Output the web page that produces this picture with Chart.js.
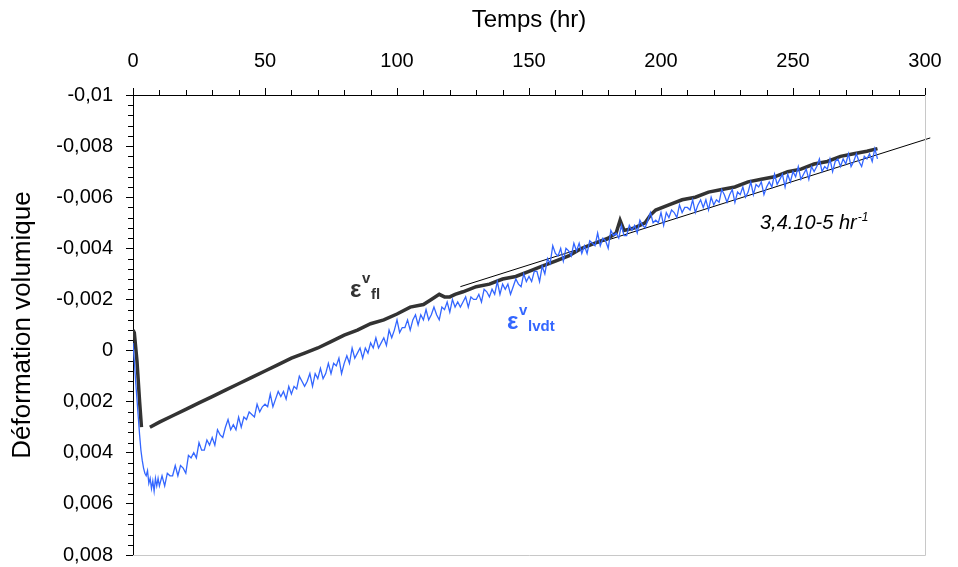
<!DOCTYPE html>
<html>
<head>
<meta charset="utf-8">
<script src="https://cdn.jsdelivr.net/npm/chart.js@4/dist/chart.umd.min.js"></script>
<style>
    html, body { margin: 0; padding: 0; background: #fff; }
</style>
</head>
<body>
<canvas id="chart" width="958" height="567"></canvas>
<script>
// fibre optic strain (black)
const flTime = [0, 0.5, 1.5, 2.5, 3.2, 4.5, 6.4, 10, 15, 20,
    25, 30, 35, 40, 45, 50, 55, 60, 65, 70,
    75, 80, 85, 90, 95, 100, 105, 110, 113, 116,
    118, 120, 122, 125, 130, 135, 140, 145, 150, 155,
    160, 165, 170, 175, 180, 183, 184.5, 186, 190, 194,
    196, 198, 203, 208, 213, 218, 223, 228, 233, 238,
    243, 248, 253, 258, 263, 268, 273, 278, 282];
const flStrain = [-0.0008, -0.0007, 0.0004, 0.0020, 0.0030, null, 0.0030, 0.0028, 0.00255, 0.0023,
    0.00205, 0.0018, 0.00155, 0.0013, 0.00105, 0.0008, 0.00055, 0.0003, 0.0001, -0.0001,
    -0.00035, -0.0006, -0.0008, -0.00105, -0.0012, -0.00143, -0.0017, -0.0018, -0.0020, -0.0022,
    -0.0021, -0.0021, -0.0022, -0.0023, -0.0025, -0.0026, -0.0028, -0.0029, -0.0031, -0.0033,
    -0.0035, -0.0037, -0.0040, -0.0042, -0.0044, -0.0046, -0.0051, -0.0047, -0.0048, -0.0050,
    -0.0053, -0.0055, -0.0057, -0.0059, -0.0060, -0.0062, -0.0063, -0.0064, -0.0066, -0.0067,
    -0.0068, -0.0070, -0.0071, -0.0073, -0.0074, -0.0076, -0.0077, -0.0078, -0.0079];

// LVDT strain (blue, noisy)
const lvdtTime = [0, 0.5, 1, 1.5, 2, 2.5, 3, 3.5, 4, 4.5,
    5, 5.5, 6, 6.5, 7, 7.5, 8, 8.5, 9, 9.5,
    10, 11, 12, 13, 14, 15, 16, 17, 18, 19,
    20, 21, 22, 23, 24, 25, 26, 27, 28, 29,
    30, 31, 32, 33, 34, 35, 36, 37, 38, 39,
    40, 41, 42, 43, 44, 45, 46, 47, 48, 49,
    50, 51, 52, 53, 54, 55, 56, 57, 58, 59,
    60, 61, 62, 63, 64, 65, 66, 67, 68, 69,
    70, 71, 72, 73, 74, 75, 76, 77, 78, 79,
    80, 81, 82, 83, 84, 85, 86, 87, 88, 89,
    90, 91, 92, 93, 94, 95, 96, 97, 98, 99,
    100, 101, 102, 103, 104, 105, 106, 107, 108, 109,
    110, 111, 112, 113, 114, 115, 116, 117, 118, 119,
    120, 121, 122, 123, 124, 125, 126, 127, 128, 129,
    130, 131, 132, 133, 134, 135, 136, 137, 138, 139,
    140, 141, 142, 143, 144, 145, 146, 147, 148, 149,
    150, 151, 152, 153, 154, 155, 156, 157, 158, 159,
    160, 161, 162, 163, 164, 165, 166, 167, 168, 169,
    170, 171, 172, 173, 174, 175, 176, 177, 178, 179,
    180, 181, 182, 183, 184, 185, 186, 187, 188, 189,
    190, 191, 192, 193, 194, 195, 196, 197, 198, 199,
    200, 201, 202, 203, 204, 205, 206, 207, 208, 209,
    210, 211, 212, 213, 214, 215, 216, 217, 218, 219,
    220, 221, 222, 223, 224, 225, 226, 227, 228, 229,
    230, 231, 232, 233, 234, 235, 236, 237, 238, 239,
    240, 241, 242, 243, 244, 245, 246, 247, 248, 249,
    250, 251, 252, 253, 254, 255, 256, 257, 258, 259,
    260, 261, 262, 263, 264, 265, 266, 267, 268, 269,
    270, 271, 272, 273, 274, 275, 276, 277, 278, 279,
    280, 281, 282];
const lvdtStrain = [-0.0003, 0.0004, 0.0012, 0.0019, 0.0026, 0.0033, 0.0039, 0.0043, 0.0046, 0.0048,
    0.0049, 0.0047, 0.0052, 0.0050, 0.0054, 0.0051, 0.0055, 0.0050, 0.0053, 0.0050,
    0.0053, 0.0049, 0.0053, 0.0048, 0.0049, 0.0049, 0.0045, 0.0049, 0.0045, 0.0046,
    0.0048, 0.0041, 0.0042, 0.0040, 0.0042, 0.0036, 0.0039, 0.0039, 0.0035, 0.0037,
    0.0034, 0.0037, 0.0031, 0.0033, 0.0034, 0.0030, 0.0027, 0.0031, 0.0029, 0.0031,
    0.0026, 0.0030, 0.0026, 0.0027, 0.0024, 0.0025, 0.0026, 0.0021, 0.0024, 0.0022,
    0.0021, 0.0022, 0.0017, 0.0022, 0.0019, 0.0016, 0.0018, 0.0016, 0.0019, 0.0014,
    0.0017, 0.0014, 0.0015, 0.0010, 0.0012, 0.0014, 0.0012, 0.0009, 0.0014, 0.0009,
    0.0011, 0.0007, 0.0011, 0.0009, 0.0005, 0.0009, 0.0005, 0.0006, 0.0003, 0.0009,
    0.0005, 0.0002, 0.0005, -0.0001, 0.0003, 0.0001, -0.0001, 0.0003, -0.0001, 0.0001,
    -0.0003, -0.0001, -0.0005, -0.0001, -0.0003, -0.0005, -0.0002, -0.0008, -0.0005, -0.0008,
    -0.0012, -0.0007, -0.0009, -0.0009, -0.0012, -0.0008, -0.0012, -0.0014, -0.0010, -0.0014,
    -0.0012, -0.0016, -0.0012, -0.0014, -0.0017, -0.0014, -0.0012, -0.0017, -0.0016, -0.0019,
    -0.0015, -0.0020, -0.0017, -0.0019, -0.0017, -0.0019, -0.0021, -0.0017, -0.0021, -0.0020,
    -0.0020, -0.0022, -0.0019, -0.0024, -0.0023, -0.0021, -0.0024, -0.0022, -0.0027, -0.0022,
    -0.0026, -0.0024, -0.0026, -0.0022, -0.0025, -0.0028, -0.0026, -0.0025, -0.0030, -0.0027,
    -0.0029, -0.0027, -0.0031, -0.0031, -0.0027, -0.0033, -0.0030, -0.0036, -0.0034, -0.0041,
    -0.0038, -0.0037, -0.0040, -0.0035, -0.0040, -0.0039, -0.0037, -0.0042, -0.0039, -0.0042,
    -0.0038, -0.0041, -0.0038, -0.0043, -0.0042, -0.0041, -0.0046, -0.0041, -0.0044, -0.0043,
    -0.0040, -0.0047, -0.0045, -0.0046, -0.0044, -0.0049, -0.0045, -0.0045, -0.0049, -0.0047,
    -0.0049, -0.0046, -0.0051, -0.0049, -0.0048, -0.0051, -0.0054, -0.0050, -0.0051, -0.0050,
    -0.0054, -0.0049, -0.0054, -0.0052, -0.0055, -0.0054, -0.0052, -0.0057, -0.0054, -0.0056,
    -0.0056, -0.0055, -0.0059, -0.0054, -0.0057, -0.0059, -0.0056, -0.0059, -0.0055, -0.0060,
    -0.0057, -0.0059, -0.0058, -0.0063, -0.0061, -0.0058, -0.0061, -0.0063, -0.0058, -0.0062,
    -0.0061, -0.0064, -0.0060, -0.0062, -0.0066, -0.0061, -0.0065, -0.0064, -0.0066, -0.0061,
    -0.0064, -0.0066, -0.0064, -0.0069, -0.0065, -0.0067, -0.0069, -0.0064, -0.0069, -0.0066,
    -0.0070, -0.0068, -0.0072, -0.0067, -0.0069, -0.0071, -0.0067, -0.0072, -0.0070, -0.0072,
    -0.0075, -0.0070, -0.0072, -0.0071, -0.0075, -0.0070, -0.0074, -0.0075, -0.0072, -0.0075,
    -0.0073, -0.0077, -0.0072, -0.0074, -0.0077, -0.0074, -0.0072, -0.0076, -0.0075, -0.0077,
    -0.0074, -0.0079, -0.0075];

// fitted slope line 3,4.10-5 hr-1
const fitTime = [124, 302];
const fitStrain = [-0.0025, -0.00832];

const FONT = "'Liberation Sans', Arial, sans-serif";
const BLUE = '#3366ff';
const DARK = '#333333';

const toPoints = (xs, ys) => xs.map((t, i) => ({ x: t, y: ys[i] }));

const fmtStrain = (v) => {
    const r = Math.round(v * 10000) / 10000;
    if (r === 0) return '0';
    return String(r).replace('.', ',');
};

// minor ticks + grey right/bottom edges
const axisExtras = {
    id: 'axisExtras',
    afterDraw(chart) {
        const { ctx, chartArea: a, scales: { x, y } } = chart;
        ctx.save();
        ctx.strokeStyle = '#000';
        ctx.lineWidth = 1;
        ctx.beginPath();
        for (let t = 10; t < 300; t += 10) {
            if (t % 50 === 0) continue;
            const px = Math.round(x.getPixelForValue(t)) + 0.5;
            ctx.moveTo(px, a.top);
            ctx.lineTo(px, a.top - 5);
        }
        for (let i = 1; i < 45; i++) {
            if (i % 5 === 0) continue;
            const py = Math.round(y.getPixelForValue(-0.01 + i * 0.0004)) + 0.5;
            ctx.moveTo(a.left, py);
            ctx.lineTo(a.left - 5, py);
        }
        ctx.stroke();

        ctx.strokeStyle = '#c8c8c8';
        ctx.beginPath();
        ctx.moveTo(Math.round(a.right) + 0.5, a.top);
        ctx.lineTo(Math.round(a.right) + 0.5, Math.round(a.bottom) + 0.5);
        ctx.lineTo(a.left, Math.round(a.bottom) + 0.5);
        ctx.stroke();
        ctx.restore();
    }
};

// epsilon labels and slope label
const curveLabels = {
    id: 'curveLabels',
    afterDatasetsDraw(chart) {
        const { ctx, scales: { x, y } } = chart;
        ctx.save();
        ctx.textAlign = 'left';
        ctx.textBaseline = 'alphabetic';

        const eps = (t, v, sub, color) => {
            const px = x.getPixelForValue(t), py = y.getPixelForValue(v);
            ctx.fillStyle = color;
            ctx.font = 'bold 24px ' + FONT;
            ctx.fillText('ε', px, py);
            ctx.font = 'bold 15px ' + FONT;
            ctx.fillText('v', px + 12, py - 14);
            ctx.fillText(sub, px + 21, py + 2);
        };
        eps(82.2, -0.00211, 'fl', DARK);
        eps(141.7, -0.00086, 'lvdt', BLUE);

        const rx = x.getPixelForValue(237.5), ry = y.getPixelForValue(-0.00477);
        ctx.fillStyle = '#000';
        ctx.font = 'italic 20px ' + FONT;
        const main = '3,4.10-5 hr';
        ctx.fillText(main, rx, ry);
        const w = ctx.measureText(main).width;
        ctx.font = 'italic 12px ' + FONT;
        ctx.fillText('-1', rx + w + 1, ry - 8);
        ctx.restore();
    }
};

const ctx = document.getElementById('chart').getContext('2d');
new Chart(ctx, {
    type: 'line',
    data: {
        datasets: [
            {
                label: 'lvdt',
                data: toPoints(lvdtTime, lvdtStrain),
                borderColor: BLUE,
                borderWidth: 1.3,
                pointRadius: 0,
                tension: 0
            },
            {
                label: 'fl',
                data: toPoints(flTime, flStrain),
                borderColor: DARK,
                borderWidth: 3.5,
                pointRadius: 0,
                tension: 0,
                spanGaps: false
            },
            {
                label: 'fit',
                data: toPoints(fitTime, fitStrain),
                borderColor: '#000',
                borderWidth: 1,
                pointRadius: 0,
                clip: false
            }
        ]
    },
    options: {
        responsive: false,
        animation: false,
        devicePixelRatio: 1,
        layout: { padding: { left: 0, top: 0, right: 33, bottom: 12 } },
        plugins: {
            legend: { display: false },
            tooltip: { enabled: false }
        },
        scales: {
            x: {
                type: 'linear',
                position: 'top',
                min: 0,
                max: 300,
                afterFit: (s) => { s.height = 95; },
                ticks: {
                    stepSize: 50,
                    color: '#000',
                    padding: 15,
                    maxRotation: 0,
                    font: { family: FONT, size: 20 }
                },
                grid: { drawOnChartArea: false, drawTicks: true, tickLength: 7, color: '#000' },
                border: { color: '#000', width: 1 },
                title: {
                    display: true,
                    text: 'Temps (hr)',
                    color: '#000',
                    padding: { top: 6, bottom: 0 },
                    font: { family: FONT, size: 24 }
                }
            },
            y: {
                type: 'linear',
                reverse: true,
                min: -0.01,
                max: 0.008,
                afterFit: (s) => {
                    s.width = 133;
                    s.paddingTop = 0;
                    s.paddingBottom = 0;
                },
                ticks: {
                    stepSize: 0.002,
                    color: '#000',
                    padding: 13,
                    font: { family: FONT, size: 20 },
                    callback: (v) => fmtStrain(v)
                },
                grid: { drawOnChartArea: false, drawTicks: true, tickLength: 7, color: '#000' },
                border: { color: '#000', width: 1 },
                title: {
                    display: true,
                    text: 'Déformation volumique',
                    color: '#000',
                    padding: { top: 7, bottom: 0 },
                    font: { family: FONT, size: 26 }
                }
            }
        }
    },
    plugins: [axisExtras, curveLabels]
});
</script>
</body>
</html>
